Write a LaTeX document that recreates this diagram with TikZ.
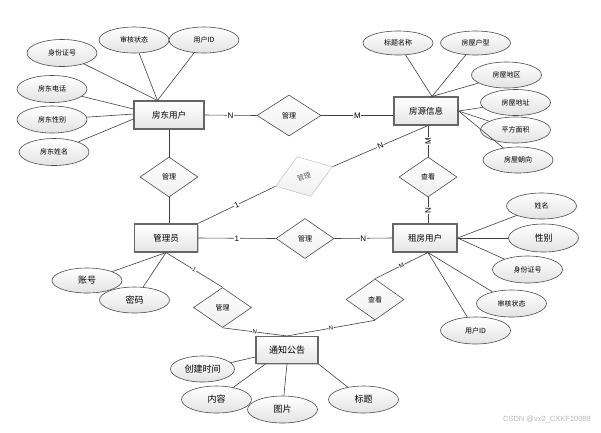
\documentclass[tikz,border=0pt]{standalone}
\usepackage{fontspec}
\setmainfont{Noto Sans CJK SC}
\newfontfamily\latinf{Liberation Sans}
\usetikzlibrary{shapes.geometric,calc,shadows}
\begin{document}
\begin{tikzpicture}[x=1pt,y=-1pt,
 ent/.style={rectangle, draw=gray!80!black, line width=1.1pt, top color=white, bottom color=gray!20,
   minimum width=64pt, minimum height=28pt, inner sep=0pt, font=\fontsize{8.5}{10}\selectfont,
   drop shadow={shadow xshift=1.2pt,shadow yshift=-1.2pt,fill=black!40,opacity=0.5}},
 attr/.style={ellipse, draw=black!70, line width=0.6pt, top color=white, bottom color=gray!22,
   minimum width=70pt, minimum height=27pt, inner sep=0pt, font=\fontsize{7}{8}\selectfont},
 attrL/.style={attr, font=\fontsize{9}{10}\selectfont},
 rel/.style={diamond, draw=black!70, line width=0.6pt, top color=white, bottom color=gray!12,
   minimum width=58pt, minimum height=40pt, inner sep=0pt, font=\fontsize{7}{8}\selectfont},
 ln/.style={draw=black!75, line width=0.6pt},
 card/.style={fill=white, inner sep=0.6pt, font=\latinf\fontsize{8}{9}\selectfont},
 cards/.style={fill=white, inner sep=0.4pt, font=\latinf\fontsize{6}{7}\selectfont}
]
\fill[white] (0,0) rectangle (601,432);

% entities
\node[ent, minimum width=70pt] (fd) at (169,115) {房东用户};
\node[ent, minimum width=63pt] (gly) at (166,238) {管理员};
\node[ent] (zf) at (425,238) {租房用户};
\node[ent] (fy) at (426,111) {房源信息};
\node[ent, minimum width=62pt, minimum height=27pt, font=\fontsize{9}{10}\selectfont] (tz) at (287,350) {通知公告};

% relationships
\node[rel, minimum width=64pt, minimum height=41pt] (r1) at (289,115.5) {管理};
\node[rel] (r2) at (169,177) {管理};
\node[rel, draw=gray!45, text=gray!75!black, rotate=19, minimum width=60pt, minimum height=42pt] (r3) at (304,176.5) {管理};
\node[rel] (r4) at (305,238.5) {管理};
\node[rel] (r5) at (428,177) {查看};
\node[rel, minimum height=41pt] (r6) at (375,299.5) {查看};
\node[rel] (r7) at (222.5,307.5) {管理};

% attributes of 房东用户
\node[attr] (a1) at (62,53) {身份证号};
\node[attr, minimum height=26pt] (a2) at (134,40) {审核状态};
\node[attr, minimum height=26pt] (a3) at (204,40) {用户ID};
\node[attr] (a4) at (52,89) {房东电话};
\node[attr] (a5) at (52,119.5) {房东性别};
\node[attr] (a6) at (54,152) {房东姓名};

% attributes of 房源信息
\node[attr, minimum height=24pt] (b1) at (398,43) {标题名称};
\node[attr, minimum height=24pt] (b2) at (475.5,43) {房屋户型};
\node[attr, minimum height=26pt] (b3) at (506.5,75) {房屋地区};
\node[attr, minimum height=26pt] (b4) at (515.5,102.5) {房屋地址};
\node[attr, minimum height=26pt] (b5) at (515.5,130) {平方面积};
\node[attr, minimum height=26pt] (b6) at (518,160) {房屋朝向};

% attributes of 租房用户
\node[attr, minimum height=26pt] (c1) at (541.5,206) {姓名};
\node[attrL, minimum height=28pt] (c2) at (543.5,238) {性别};
\node[attr] (c3) at (527.5,269.5) {身份证号};
\node[attr] (c4) at (511.5,303.5) {审核状态};
\node[attr] (c5) at (475.5,330.5) {用户ID};

% attributes of 管理员
\node[attrL, minimum height=25pt] (d1) at (87,280.5) {账号};
\node[attrL, minimum height=26pt] (d2) at (134.5,300) {密码};

% attributes of 通知公告
\node[attrL, minimum width=64pt, minimum height=26pt] (e1) at (202.5,369) {创建时间};
\node[attrL] (e2) at (216.5,399.5) {内容};
\node[attrL] (e3) at (282.5,409.5) {图片};
\node[attrL] (e4) at (363.5,399.5) {标题};

% watermark
\node[font=\latinf\fontsize{7.5}{8}\selectfont, text=gray!55, anchor=east, inner sep=0pt] (wm) at (591,420) {CSDN @vx2\_CXKF10088};

% connection points
\coordinate (fdT) at ($(fd.north west)+(24,0)$);
\coordinate (fdL1) at ($(fd.west)+(0,-6)$);
\coordinate (fdL2) at ($(fd.west)+(0,-1)$);
\coordinate (fdL3) at ($(fd.west)+(0,4)$);
\coordinate (fyT) at ($(fy.north)+(6,0)$);
\coordinate (fyB) at ($(fy.south)+(2,0)$);
\coordinate (zfT) at ($(zf.north)+(3,0)$);
\coordinate (zfB) at ($(zf.south)+(3,0)$);
\coordinate (tzL) at ($(tz.west)+(0,7)$);
\coordinate (tzB1) at ($(tz.south west)+(10,0)$);

% attribute lines
\draw[ln] (a1) -- (fdT);
\draw[ln] (a2) -- (fdT);
\draw[ln] (a3) -- (fdT);
\draw[ln] (a4) -- (fdL1);
\draw[ln] (a5) -- (fdL2);
\draw[ln] (a6) -- (fdL3);
\draw[ln] (b1) -- (fyT);
\draw[ln] (b2) -- (fyT);
\draw[ln] (b3) -- (fyT);
\draw[ln] (b4) -- (fy.east);
\draw[ln] (b5) -- (fy.east);
\draw[ln] (b6) -- (fy.east);
\draw[ln] (c1) -- (zf.east);
\draw[ln] (c2) -- (zf.east);
\draw[ln] (c3) -- (zf.east);
\draw[ln] (c4) -- (zfB);
\draw[ln] (c5) -- (zfB);
\draw[ln] (d1) -- (gly.south);
\draw[ln] (d2) -- (gly.south);
\draw[ln] (e1) -- (tzL);
\draw[ln] (e2) -- (tzB1);
\draw[ln] (e3) -- (tz.south);
\draw[ln] (e4) -- (tz.south east);

% relationship lines
\draw[ln] (fd.east) -- node[card]{N} (r1.west);
\draw[ln] (r1.east) -- node[card]{M} (r1.east -| fy.west);
\draw[ln] (fd.south) -- (r2.north);
\draw[ln] (r2.south) -- (r2.south |- gly.north);
\draw[ln] (gly.north east) -- node[card, sloped]{1} (r3.west);
\draw[ln] (r3.east) -- node[card, sloped]{N} (fyB);
\draw[ln] (fyB) -- node[card, rotate=90]{M} (r5.north);
\draw[ln] (r5.south) -- node[card, rotate=90]{N} (zfT);
\draw[ln] (gly.east) -- node[card]{1} (r4.west);
\draw[ln] (r4.east) -- node[card]{N} (zf.west);
\draw[ln] (r6.north) -- node[cards, sloped]{M} (zfB);
\draw[ln] (r6.south) -- node[cards, sloped]{N} (tz.north);
\draw[ln] (gly.south) -- node[cards, sloped]{1} (r7.north);
\draw[ln] (r7.south) -- node[cards, sloped]{N} (tz.north);
\end{tikzpicture}
\end{document}
